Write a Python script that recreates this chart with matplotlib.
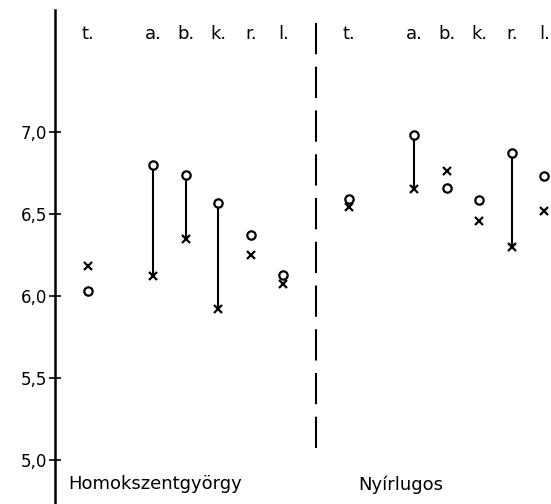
import matplotlib
matplotlib.use("Agg")
import matplotlib.pyplot as plt

# category labels (letters above each column) and x positions
cats = ["t.", "a.", "b.", "k.", "r.", "l."]
left_x = [1, 3, 4, 5, 6, 7]
right_x = [9, 11, 12, 13, 14, 15]

# Homokszentgyörgy
left_o = [6.03, 6.80, 6.74, 6.57, 6.37, 6.13]
left_x_vals = [6.18, 6.12, 6.35, 5.92, 6.25, 6.07]
left_join = [False, True, True, True, False, False]

# Nyírlugos
right_o = [6.59, 6.98, 6.66, 6.585, 6.87, 6.73]
right_x_vals = [6.545, 6.65, 6.76, 6.46, 6.30, 6.52]
right_join = [False, True, False, False, True, False]

site_names = ["Homokszentgyörgy", "Nyírlugos"]
yticks = [5.0, 5.5, 6.0, 6.5, 7.0]

fig = plt.figure(figsize=(5.51, 5.04), dpi=100)
ax = fig.add_axes([55 / 551, 0, 496 / 551, 494 / 504])
ax.set_xlim(0, 15.2)
ax.set_ylim(4.73, 7.745)

for xs, os_, xv, joined in [(left_x, left_o, left_x_vals, left_join),
                           (right_x, right_o, right_x_vals, right_join)]:
    for x, o, v, j in zip(xs, os_, xv, joined):
        if j:
            ax.vlines(x, min(o, v), max(o, v), color="black", lw=1.5)
    ax.plot(xs, os_, "o", ms=6, mfc="white", mec="black", mew=1.6, ls="none")
    ax.plot(xs, xv, "x", ms=5.5, color="black", mew=1.6, ls="none")
    for x, c in zip(xs, cats):
        ax.text(x, 7.6, c, ha="center", va="center", fontsize=13)

# dashed separator between the two sites
ax.vlines(8, 5.07, 7.72, color="black", lw=1.5, linestyles=(0, (15, 6)))

ax.text(0.4, 4.85, site_names[0], ha="left", va="center", fontsize=13)
ax.text(9.3, 4.85, site_names[1], ha="left", va="center", fontsize=13)

ax.set_yticks(yticks)
ax.set_yticklabels([("%.1f" % t).replace(".", ",") for t in yticks], fontsize=12)
ax.tick_params(axis="y", direction="inout", length=9, width=1.2, pad=1)
ax.set_xticks([])
for s in ["top", "right", "bottom"]:
    ax.spines[s].set_visible(False)
ax.spines["left"].set_linewidth(1.8)

fig.savefig("out.png", dpi=100)
